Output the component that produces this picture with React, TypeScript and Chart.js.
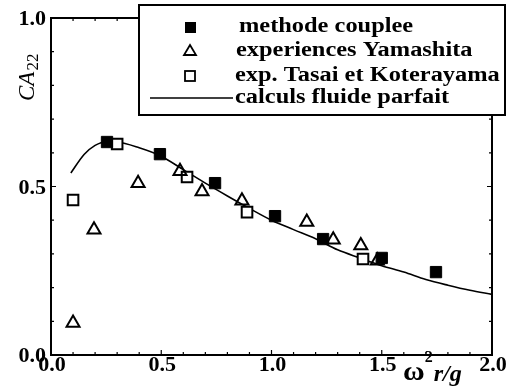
import React, { useEffect, useRef } from 'react';
import { Chart, registerables } from 'chart.js';

Chart.register(...registerables);

// ---- data ----
const coupleeX = [0.254, 0.494, 0.744, 1.016, 1.234, 1.5, 1.746];
const coupleeY = [0.632, 0.596, 0.51, 0.412, 0.344, 0.288, 0.246];

const yamashitaX = [0.1, 0.195, 0.395, 0.585, 0.685, 0.866, 1.16, 1.28, 1.405, 1.48];
const yamashitaY = [0.095, 0.372, 0.51, 0.545, 0.485, 0.458, 0.395, 0.342, 0.325, 0.28];

const tasaiX = [0.1, 0.3, 0.617, 0.889, 1.415];
const tasaiY = [0.46, 0.626, 0.528, 0.424, 0.285];

const curveX = [0.09, 0.15, 0.2, 0.25, 0.3, 0.4, 0.5, 0.6, 0.7, 0.8, 0.9, 1.0, 1.1, 1.2, 1.3, 1.4, 1.5, 1.6, 1.7, 1.8, 1.9, 2.0];
const curveY = [0.54, 0.595, 0.622, 0.633, 0.632, 0.615, 0.59, 0.55, 0.51, 0.472, 0.435, 0.4, 0.372, 0.345, 0.312, 0.288, 0.265, 0.246, 0.224, 0.207, 0.192, 0.18];

const xTickValues = [0, 0.5, 1.0, 1.5, 2.0];
const xTickLabels = ['0.0', '0.5', '1.0', '1.5', '2.0'];
const yTickValues = [0, 0.5, 1.0];
const yTickLabels = ['0.0', '0.5', '1.0'];

const legendLabels = [
  'methode couplee',
  'experiences Yamashita',
  'exp. Tasai et Koterayama',
  'calculs fluide parfait',
];

const SERIF = '"Liberation Serif", "DejaVu Serif", serif';

function toPts(xs: number[], ys: number[]) {
  return xs.map((x, i) => ({ x, y: ys[i] }));
}

function drawText(
  ctx: CanvasRenderingContext2D,
  text: string,
  x: number,
  y: number,
  font: string,
  align: 'left' | 'right' | 'center',
  scaleX: number
) {
  ctx.save();
  ctx.font = font;
  ctx.textBaseline = 'middle';
  ctx.textAlign = 'left';
  const w = ctx.measureText(text).width * scaleX;
  let left = x;
  if (align === 'right') left = x - w;
  if (align === 'center') left = x - w / 2;
  ctx.translate(left, y);
  ctx.scale(scaleX, 1);
  ctx.fillText(text, 0, 0);
  ctx.restore();
  return w;
}

const decorPlugin = {
  id: 'decor',
  afterDatasetsDraw(chart: any) {
    const ctx: CanvasRenderingContext2D = chart.ctx;
    const area = chart.chartArea;
    const xs = chart.scales.x;
    const ys = chart.scales.y;
    ctx.save();
    ctx.fillStyle = '#000';
    ctx.strokeStyle = '#000';

    // frame
    ctx.lineWidth = 2;
    ctx.strokeRect(area.left, area.top, area.right - area.left, area.bottom - area.top);

    // inward minor ticks
    ctx.lineWidth = 1.2;
    for (let i = 0; i <= 20; i++) {
      const v = i / 10;
      const px = xs.getPixelForValue(v);
      const len = i % 5 === 0 ? 5 : 3;
      ctx.beginPath();
      ctx.moveTo(px, area.bottom);
      ctx.lineTo(px, area.bottom - len);
      ctx.moveTo(px, area.top);
      ctx.lineTo(px, area.top + len);
      ctx.stroke();
    }
    for (let i = 0; i <= 10; i++) {
      const v = i / 10;
      const py = ys.getPixelForValue(v);
      const len = i % 5 === 0 ? 5 : 3;
      ctx.beginPath();
      ctx.moveTo(area.left, py);
      ctx.lineTo(area.left + len, py);
      ctx.moveTo(area.right, py);
      ctx.lineTo(area.right - len, py);
      ctx.stroke();
    }

    // tick labels
    const tickFont = `bold 21px ${SERIF}`;
    yTickValues.forEach((v, i) => {
      drawText(ctx, yTickLabels[i], area.left - 5, ys.getPixelForValue(v) + 2, tickFont, 'right', 1.05);
    });
    xTickValues.forEach((v, i) => {
      drawText(ctx, xTickLabels[i], xs.getPixelForValue(v) + 1, area.bottom + 11, tickFont, 'center', 1.05);
    });

    // x title: ω² r/g
    {
      let x = 403;
      const base = 373;
      x += drawText(ctx, 'ω', x, base, `bold 27px ${SERIF}`, 'left', 1.1);
      x += drawText(ctx, '2', x, base - 15, `bold 16px ${SERIF}`, 'left', 1.0) + 1;
      drawText(ctx, 'r/g', x, base + 2, `italic bold 23px ${SERIF}`, 'left', 1.05);
    }

    // y title: CA22 rotated
    {
      ctx.save();
      ctx.translate(28, 101);
      ctx.rotate(-Math.PI / 2);
      const w = drawText(ctx, 'CA', 0, 0, `italic 23px ${SERIF}`, 'left', 1.0);
      drawText(ctx, '22', w + 1, 6, `17px ${SERIF}`, 'left', 1.0);
      ctx.restore();
    }

    // legend
    {
      const bx = 139, by = 5, bw = 366, bh = 110;
      ctx.fillStyle = '#fff';
      ctx.fillRect(bx, by, bw, bh);
      ctx.fillStyle = '#000';
      ctx.lineWidth = 2;
      ctx.strokeRect(bx, by, bw, bh);
      const rows = [27, 51, 76, 98];
      const mx = 190;
      // filled square
      ctx.fillRect(mx - 5, rows[0] - 5, 11, 11);
      // triangle
      ctx.lineWidth = 1.8;
      ctx.beginPath();
      ctx.moveTo(mx, rows[1] - 6);
      ctx.lineTo(mx + 6, rows[1] + 4);
      ctx.lineTo(mx - 6, rows[1] + 4);
      ctx.closePath();
      ctx.stroke();
      // open square
      ctx.strokeRect(mx - 5, rows[2] - 5, 10, 10);
      // line
      ctx.lineWidth = 1.5;
      ctx.beginPath();
      ctx.moveTo(150, rows[3]);
      ctx.lineTo(233, rows[3]);
      ctx.stroke();
      const lf = `bold 20px ${SERIF}`;
      const tx = [239, 236, 235, 235];
      legendLabels.forEach((t, i) => {
        drawText(ctx, t, tx[i], rows[i], lf, 'left', 1.22);
      });
    }
    ctx.restore();
  },
};

export default function App() {
  const ref = useRef<HTMLCanvasElement | null>(null);
  useEffect(() => {
    if (!ref.current) return;
    const chart = new Chart(ref.current, {
      type: 'scatter',
      data: {
        datasets: [
          {
            label: legendLabels[0],
            data: toPts(coupleeX, coupleeY),
            pointStyle: 'rect',
            pointRadius: 8,
            backgroundColor: '#000',
            borderColor: '#000',
            borderWidth: 1,
          },
          {
            label: legendLabels[1],
            data: toPts(yamashitaX, yamashitaY),
            pointStyle: 'triangle',
            pointRadius: 7.5,
            backgroundColor: 'rgba(255,255,255,0)',
            borderColor: '#000',
            borderWidth: 2,
          },
          {
            label: legendLabels[2],
            data: toPts(tasaiX, tasaiY),
            pointStyle: 'rect',
            pointRadius: 7.5,
            backgroundColor: '#fff',
            borderColor: '#000',
            borderWidth: 2,
          },
          {
            label: legendLabels[3],
            data: toPts(curveX, curveY),
            showLine: true,
            pointRadius: 0,
            borderColor: '#000',
            borderWidth: 1.6,
            tension: 0.4,
            cubicInterpolationMode: 'monotone',
            fill: false,
          } as any,
        ],
      },
      options: {
        animation: false,
        responsive: false,
        devicePixelRatio: 1,
        layout: { padding: { left: 51, top: 18, right: 21, bottom: 37 } },
        scales: {
          x: { type: 'linear', min: 0, max: 2, display: false },
          y: { type: 'linear', min: 0, max: 1, display: false },
        },
        plugins: {
          legend: { display: false },
          tooltip: { enabled: false },
        },
      },
      plugins: [decorPlugin],
    });
    return () => chart.destroy();
  }, []);
  return (
    <div style={{ position: 'fixed', left: 0, top: 0, width: 513, height: 392, background: '#fff' }}>
      <canvas ref={ref} width={513} height={392} />
    </div>
  );
}
